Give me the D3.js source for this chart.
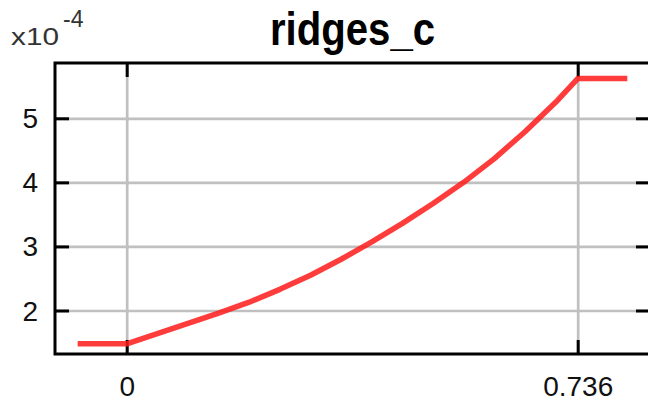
<!DOCTYPE html>
<html>
<head>
<meta charset="utf-8">
<script src="https://cdn.jsdelivr.net/npm/d3@7"></script>
<style>
  body { margin: 0; background: #fff; }
  svg { display: block; }
</style>
</head>
<body>
<svg id="svg" width="648" height="403"></svg>
<script>
// values, y in units of 1e-4
const xs = [-0.08, 0, 0.05, 0.1, 0.15, 0.2, 0.25, 0.3, 0.35, 0.4, 0.45, 0.5, 0.55, 0.6, 0.65, 0.7, 0.736, 0.817];
const ys = [1.48, 1.48, 1.64, 1.80, 1.96, 2.13, 2.33, 2.55, 2.80, 3.07, 3.36, 3.67, 4.00, 4.37, 4.79, 5.25, 5.62, 5.62];
const xTicks = [0, 0.736];
const xTickLabels = ["0", "0.736"];
const yTicks = [2, 3, 4, 5];

var width = 648;
var height = 403;
var margin = {top: 63, right: -2, bottom: 49, left: 55};

var x = d3.scaleLinear()
  .domain([-0.117, 0.854])
  .range([margin.left, width - margin.right]);

var y = d3.scaleLinear()
  .domain([1.321, 5.863])
  .range([height - margin.bottom, margin.top]);

var svg = d3.select("#svg");
var innerW = width - margin.right - margin.left;
var innerH = height - margin.bottom - margin.top;

// grid
svg.append("g")
    .attr("transform", 'translate(' + margin.left + ',0)')
    .call(d3.axisLeft(y).tickValues(yTicks).tickSize(-innerW).tickFormat(""))
    .call(g => g.select(".domain").remove())
    .call(g => g.selectAll("line").attr("stroke", "#c0c0c0").attr("stroke-width", 2.7));

svg.append("g")
    .attr("transform", 'translate(0,' + (height - margin.bottom) + ')')
    .call(d3.axisBottom(x).tickValues(xTicks).tickSize(-innerH).tickFormat(""))
    .call(g => g.select(".domain").remove())
    .call(g => g.selectAll("line").attr("stroke", "#c0c0c0").attr("stroke-width", 2.7));

// black inward ticks on all sides, plus labels
var tickLen = 14;
svg.append("g")
    .attr("transform", 'translate(' + margin.left + ',0)')
    .call(d3.axisLeft(y).tickValues(yTicks).tickSize(-tickLen).tickPadding(17)
      .tickFormat(d3.format("d")))
    .call(g => g.select(".domain").remove())
    .call(g => g.selectAll("line").attr("stroke", "#000").attr("stroke-width", 3))
    .call(g => g.selectAll("text")
      .attr("font-family", "'Liberation Sans', Arial, sans-serif")
      .attr("font-size", 28)
      .attr("fill", "#111")
      .attr("dy", "0.34em"));

svg.append("g")
    .attr("transform", 'translate(' + (width - margin.right) + ',0)')
    .call(d3.axisRight(y).tickValues(yTicks).tickSize(-tickLen).tickFormat(""))
    .call(g => g.select(".domain").remove())
    .call(g => g.selectAll("line").attr("stroke", "#000").attr("stroke-width", 3));

svg.append("g")
    .attr("transform", 'translate(0,' + (height - margin.bottom) + ')')
    .call(d3.axisBottom(x).tickValues(xTicks).tickSize(-tickLen)
      .tickFormat((d, i) => xTickLabels[i]))
    .call(g => g.select(".domain").remove())
    .call(g => g.selectAll("line").attr("stroke", "#000").attr("stroke-width", 3))
    .call(g => g.selectAll("text")
      .attr("font-family", "'Liberation Sans', Arial, sans-serif")
      .attr("font-size", 28)
      .attr("fill", "#111")
      .attr("dy", null)
      .attr("y", 42));

svg.append("g")
    .attr("transform", 'translate(0,' + margin.top + ')')
    .call(d3.axisTop(x).tickValues(xTicks).tickSize(-tickLen).tickFormat(""))
    .call(g => g.select(".domain").remove())
    .call(g => g.selectAll("line").attr("stroke", "#000").attr("stroke-width", 3));

// frame
svg.append("rect")
    .attr("x", margin.left)
    .attr("y", margin.top)
    .attr("width", innerW)
    .attr("height", innerH)
    .attr("fill", "none")
    .attr("stroke", "#000")
    .attr("stroke-width", 3);

// data line
var line = d3.line()
  .x((d, i) => x(xs[i]))
  .y(d => y(d));

svg.append("path")
    .datum(ys)
    .attr("d", line)
    .attr("fill", "none")
    .attr("stroke", "#ff1a1a")
    .attr("stroke-opacity", 0.85)
    .attr("stroke-width", 5.5)
    .attr("stroke-linejoin", "round");

// title
svg.append("text")
    .attr("x", 270)
    .attr("y", 45)
    .attr("font-family", "'Liberation Sans Narrow', 'Liberation Sans', Arial, sans-serif")
    .attr("font-weight", "bold")
    .attr("font-size", 46)
    .attr("textLength", 165)
    .attr("lengthAdjust", "spacingAndGlyphs")
    .attr("fill", "#000")
    .text("ridges_c");

// exponent label
var expo = svg.append("text")
    .attr("font-family", "'Liberation Sans', Arial, sans-serif")
    .attr("fill", "#333");
expo.append("tspan")
    .attr("x", 11)
    .attr("y", 45)
    .attr("font-size", 24)
    .attr("textLength", 48)
    .attr("lengthAdjust", "spacingAndGlyphs")
    .text("x10");
expo.append("tspan")
    .attr("x", 63)
    .attr("y", 27)
    .attr("font-size", 23)
    .text("-4");
</script>
</body>
</html>
